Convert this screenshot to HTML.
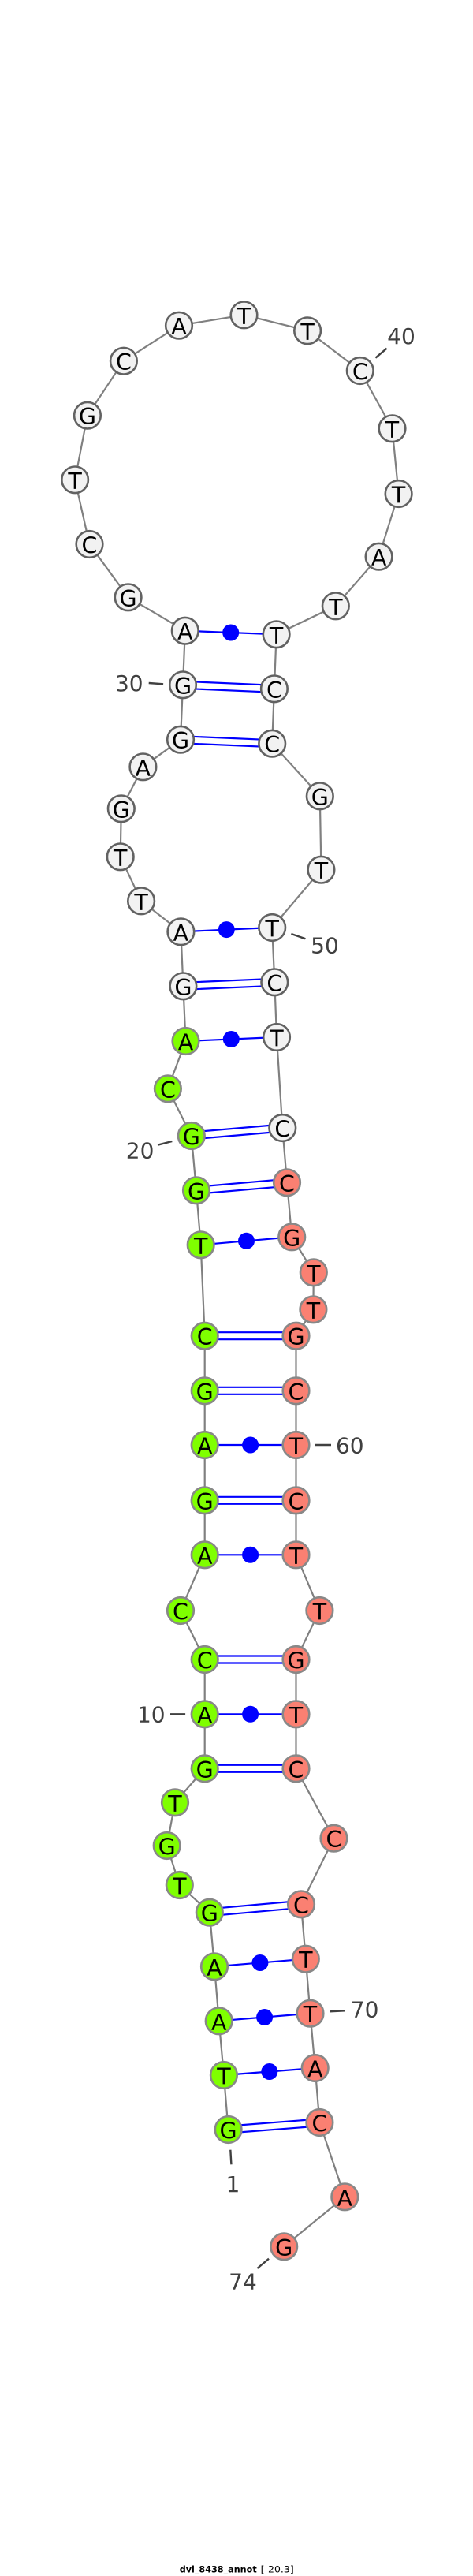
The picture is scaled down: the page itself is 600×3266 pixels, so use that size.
<!DOCTYPE html>
<html>
<head>
<meta charset="utf-8">
<style>
html,body{margin:0;padding:0;background:#fff;width:600px;height:3266px;overflow:hidden}
svg{display:block}
.n text{font:28.5px "DejaVu Sans",sans-serif;fill:#000;text-anchor:middle}
.n{transform:translateY(-0.5px)}
.w circle{fill:#f2f2f2;stroke:#626262;stroke-width:2.6;transform:translateY(0.5px)}
.g circle{fill:#7fff00;stroke:#888;stroke-width:2.6;transform:translateY(0.5px)}
.s circle{fill:#fa8072;stroke:#888;stroke-width:2.6;transform:translateY(0.5px)}
.l{font:28px "DejaVu Sans",sans-serif;fill:#404040;text-anchor:middle}
</style>
</head>
<body>
<svg width="600" height="3266" viewBox="0 0 600 3266" xmlns="http://www.w3.org/2000/svg">
<polyline fill="none" stroke="#808080" stroke-width="2.2" points="289.6,2700 283.9,2631 277.7,2562.3 272,2493.3 265.8,2424.7 227.8,2390 211.7,2340 222,2285.3 259.7,2242.3 259.7,2173.3 259.7,2104 229,2042 259.7,1971.3 259.7,1902.3 259.7,1832 259.7,1763.3 259.7,1693.7 254.7,1578.3 249,1509.3 242.8,1440 212.9,1380.3 235.5,1320 232.4,1250.3 229.4,1181.3 179.1,1142.3 152.7,1086.3 153.8,1025.3 181.4,972.3 229,937.7 232,868.3 234.8,799.7 162.6,757.3 113.5,690 95.1,608.3 110.9,526.7 156.9,457.7 227,412.7 309.5,399.3 390.1,419.3 456.8,470 497.5,543.3 505.6,626 480.6,705.7 425.8,768.3 350.6,804.3 347.9,873.3 345.2,942.7 405.8,1009.3 407.4,1102.7 345.2,1176 348.3,1245.3 351,1315 358.3,1430 364,1499.3 370.2,1568.3 397.8,1613.3 397.4,1660.3 375.5,1693.7 375.5,1763.3 375.5,1832 375.5,1902.3 375.5,1971.3 405.4,2042 375.5,2104 375.5,2173.3 375.5,2242.3 423.5,2330.7 382,2414.3 387.8,2483.7 393.5,2552.7 399.7,2622 405.4,2691 437.3,2785.3 360.2,2848.3"/>
<path fill="none" stroke="#0000ff" stroke-width="2.2" d="M283.9 2631L399.7 2622M277.7 2562.3L393.5 2552.7M272 2493.3L387.8 2483.7M259.7 2173.3H375.5M259.7 1971.3H375.5M259.7 1832H375.5M254.7 1578.3L370.2 1568.3M235.5 1320L351 1315M229.4 1181.3L345.2 1176M234.8 799.7L350.6 804.3
M289.6 2695.5L405.4 2686.5M289.6 2704.5L405.4 2695.5
M265.8 2420.2L382 2409.8M265.8 2429.2L382 2418.8
M259.7 2237.8H375.5M259.7 2246.8H375.5
M259.7 2099.5H375.5M259.7 2108.5H375.5
M259.7 1897.8H375.5M259.7 1906.8H375.5
M259.7 1758.8H375.5M259.7 1767.8H375.5
M259.7 1689.2H375.5M259.7 1698.2H375.5
M249 1504.8L364 1494.8M249 1513.8L364 1503.8
M242.8 1435.5L358.3 1425.5M242.8 1444.5L358.3 1434.5
M232.4 1245.8L348.3 1240.8M232.4 1254.8L348.3 1249.8
M229 933.2L345.2 938.2M229 942.2L345.2 947.2
M232 863.8L347.9 868.8M232 872.8L347.9 877.8"/>
<g fill="#0000ff">
<circle cx="341.8" cy="2626.5" r="10.5"/>
<circle cx="335.6" cy="2557.5" r="10.5"/>
<circle cx="329.9" cy="2488.5" r="10.5"/>
<circle cx="317.6" cy="2173.3" r="10.5"/>
<circle cx="317.6" cy="1971.3" r="10.5"/>
<circle cx="317.6" cy="1832" r="10.5"/>
<circle cx="312.5" cy="1573.3" r="10.5"/>
<circle cx="293.3" cy="1317.5" r="10.5"/>
<circle cx="287.3" cy="1178.6" r="10.5"/>
<circle cx="292.7" cy="802" r="10.5"/>
</g>
<g fill="none" stroke="#404040" stroke-width="2.4">
<path d="M476.4 453.7L490.6 441.7M188.7 866L207.1 867.3M369.4 1184L387.4 1190.3M200 1451.7L218.3 1447M400 1832H420M216 2173.3H235.1M418.1 2550.3L437.7 2549.3M292.3 2725.7L293.4 2744.3M326.4 2876L341 2863.7"/>
</g>
<g class="n g">
<circle cx="289.6" cy="2700" r="16.8"/><text x="289.6" y="2712">G</text>
<circle cx="283.9" cy="2631" r="16.8"/><text x="283.9" y="2643">T</text>
<circle cx="277.7" cy="2562.3" r="16.8"/><text x="277.7" y="2574.3">A</text>
<circle cx="272" cy="2493.3" r="16.8"/><text x="272" y="2505.3">A</text>
<circle cx="265.8" cy="2424.7" r="16.8"/><text x="265.8" y="2436.7">G</text>
<circle cx="227.8" cy="2390" r="16.8"/><text x="227.8" y="2402">T</text>
<circle cx="211.7" cy="2340" r="16.8"/><text x="211.7" y="2352">G</text>
<circle cx="222" cy="2285.3" r="16.8"/><text x="222" y="2297.3">T</text>
<circle cx="259.7" cy="2242.3" r="16.8"/><text x="259.7" y="2254.3">G</text>
<circle cx="259.7" cy="2173.3" r="16.8"/><text x="259.7" y="2185.3">A</text>
<circle cx="259.7" cy="2104" r="16.8"/><text x="259.7" y="2116">C</text>
<circle cx="229" cy="2042" r="16.8"/><text x="229" y="2054">C</text>
<circle cx="259.7" cy="1971.3" r="16.8"/><text x="259.7" y="1983.3">A</text>
<circle cx="259.7" cy="1902.3" r="16.8"/><text x="259.7" y="1914.3">G</text>
<circle cx="259.7" cy="1832" r="16.8"/><text x="259.7" y="1844">A</text>
<circle cx="259.7" cy="1763.3" r="16.8"/><text x="259.7" y="1775.3">G</text>
<circle cx="259.7" cy="1693.7" r="16.8"/><text x="259.7" y="1705.7">C</text>
<circle cx="254.7" cy="1578.3" r="16.8"/><text x="254.7" y="1590.3">T</text>
<circle cx="249" cy="1509.3" r="16.8"/><text x="249" y="1521.3">G</text>
<circle cx="242.8" cy="1440" r="16.8"/><text x="242.8" y="1452">G</text>
<circle cx="212.9" cy="1380.3" r="16.8"/><text x="212.9" y="1392.3">C</text>
<circle cx="235.5" cy="1320" r="16.8"/><text x="235.5" y="1332">A</text>
</g>
<g class="n w">
<circle cx="232.4" cy="1250.3" r="16.8"/><text x="232.4" y="1262.3">G</text>
<circle cx="229.4" cy="1181.3" r="16.8"/><text x="229.4" y="1193.3">A</text>
<circle cx="179.1" cy="1142.3" r="16.8"/><text x="179.1" y="1154.3">T</text>
<circle cx="152.7" cy="1086.3" r="16.8"/><text x="152.7" y="1098.3">T</text>
<circle cx="153.8" cy="1025.3" r="16.8"/><text x="153.8" y="1037.3">G</text>
<circle cx="181.4" cy="972.3" r="16.8"/><text x="181.4" y="984.3">A</text>
<circle cx="229" cy="937.7" r="16.8"/><text x="229" y="949.7">G</text>
<circle cx="232" cy="868.3" r="16.8"/><text x="232" y="880.3">G</text>
<circle cx="234.8" cy="799.7" r="16.8"/><text x="234.8" y="811.7">A</text>
<circle cx="162.6" cy="757.3" r="16.8"/><text x="162.6" y="769.3">G</text>
<circle cx="113.5" cy="690" r="16.8"/><text x="113.5" y="702">C</text>
<circle cx="95.1" cy="608.3" r="16.8"/><text x="95.1" y="620.3">T</text>
<circle cx="110.9" cy="526.7" r="16.8"/><text x="110.9" y="538.7">G</text>
<circle cx="156.9" cy="457.7" r="16.8"/><text x="156.9" y="469.7">C</text>
<circle cx="227" cy="412.7" r="16.8"/><text x="227" y="424.7">A</text>
<circle cx="309.5" cy="399.3" r="16.8"/><text x="309.5" y="411.3">T</text>
<circle cx="390.1" cy="419.3" r="16.8"/><text x="390.1" y="431.3">T</text>
<circle cx="456.8" cy="470" r="16.8"/><text x="456.8" y="482">C</text>
<circle cx="497.5" cy="543.3" r="16.8"/><text x="497.5" y="555.3">T</text>
<circle cx="505.6" cy="626" r="16.8"/><text x="505.6" y="638">T</text>
<circle cx="480.6" cy="705.7" r="16.8"/><text x="480.6" y="717.7">A</text>
<circle cx="425.8" cy="768.3" r="16.8"/><text x="425.8" y="780.3">T</text>
<circle cx="350.6" cy="804.3" r="16.8"/><text x="350.6" y="816.3">T</text>
<circle cx="347.9" cy="873.3" r="16.8"/><text x="347.9" y="885.3">C</text>
<circle cx="345.2" cy="942.7" r="16.8"/><text x="345.2" y="954.7">C</text>
<circle cx="405.8" cy="1009.3" r="16.8"/><text x="405.8" y="1021.3">G</text>
<circle cx="407.4" cy="1102.7" r="16.8"/><text x="407.4" y="1114.7">T</text>
<circle cx="345.2" cy="1176" r="16.8"/><text x="345.2" y="1188">T</text>
<circle cx="348.3" cy="1245.3" r="16.8"/><text x="348.3" y="1257.3">C</text>
<circle cx="351" cy="1315" r="16.8"/><text x="351" y="1327">T</text>
<circle cx="358.3" cy="1430" r="16.8"/><text x="358.3" y="1442">C</text>
</g>
<g class="n s">
<circle cx="364" cy="1499.3" r="16.8"/><text x="364" y="1511.3">C</text>
<circle cx="370.2" cy="1568.3" r="16.8"/><text x="370.2" y="1580.3">G</text>
<circle cx="397.8" cy="1613.3" r="16.8"/><text x="397.8" y="1625.3">T</text>
<circle cx="397.4" cy="1660.3" r="16.8"/><text x="397.4" y="1672.3">T</text>
<circle cx="375.5" cy="1693.7" r="16.8"/><text x="375.5" y="1705.7">G</text>
<circle cx="375.5" cy="1763.3" r="16.8"/><text x="375.5" y="1775.3">C</text>
<circle cx="375.5" cy="1832" r="16.8"/><text x="375.5" y="1844">T</text>
<circle cx="375.5" cy="1902.3" r="16.8"/><text x="375.5" y="1914.3">C</text>
<circle cx="375.5" cy="1971.3" r="16.8"/><text x="375.5" y="1983.3">T</text>
<circle cx="405.4" cy="2042" r="16.8"/><text x="405.4" y="2054">T</text>
<circle cx="375.5" cy="2104" r="16.8"/><text x="375.5" y="2116">G</text>
<circle cx="375.5" cy="2173.3" r="16.8"/><text x="375.5" y="2185.3">T</text>
<circle cx="375.5" cy="2242.3" r="16.8"/><text x="375.5" y="2254.3">C</text>
<circle cx="423.5" cy="2330.7" r="16.8"/><text x="423.5" y="2342.7">C</text>
<circle cx="382" cy="2414.3" r="16.8"/><text x="382" y="2426.3">C</text>
<circle cx="387.8" cy="2483.7" r="16.8"/><text x="387.8" y="2495.7">T</text>
<circle cx="393.5" cy="2552.7" r="16.8"/><text x="393.5" y="2564.7">T</text>
<circle cx="399.7" cy="2622" r="16.8"/><text x="399.7" y="2634">A</text>
<circle cx="405.4" cy="2691" r="16.8"/><text x="405.4" y="2703">C</text>
<circle cx="437.3" cy="2785.3" r="16.8"/><text x="437.3" y="2797.3">A</text>
<circle cx="360.2" cy="2848.3" r="16.8"/><text x="360.2" y="2860.3">G</text>
</g>
<text class="l" x="509" y="436">40</text>
<text class="l" x="163.8" y="876">30</text>
<text class="l" x="412" y="1208.3">50</text>
<text class="l" x="177.6" y="1468.3">20</text>
<text class="l" x="443.8" y="1842.7">60</text>
<text class="l" x="191.8" y="2183.3">10</text>
<text class="l" x="462.6" y="2557.7">70</text>
<text class="l" x="295.4" y="2779">1</text>
<text class="l" x="308" y="2902.7">74</text>
<text x="227.7" y="3261.5" font-family="'DejaVu Sans',sans-serif" font-size="11.5" font-weight="bold" fill="#000" textLength="98" lengthAdjust="spacingAndGlyphs">dvi_8438_annot</text>
<text x="330.7" y="3261.5" font-family="'DejaVu Sans',sans-serif" font-size="11.5" fill="#000" textLength="42" lengthAdjust="spacingAndGlyphs">[-20.3]</text>
</svg>
</body>
</html>
